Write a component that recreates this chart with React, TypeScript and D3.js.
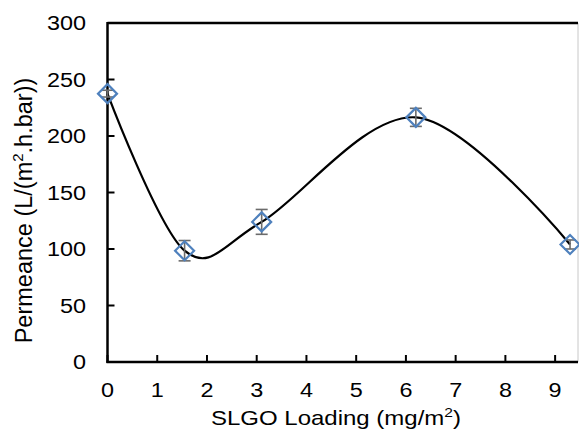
import React, { useEffect, useRef } from 'react'
import * as d3 from 'd3'

const loading = [0, 1.55, 3.1, 6.2, 9.3]
const permeance = [237.5, 98.5, 124, 216.5, 104]
const errors = [3, 9, 11, 8, 4]
const xTicks = [0, 1, 2, 3, 4, 5, 6, 7, 8, 9]
const yTicks = [0, 50, 100, 150, 200, 250, 300]

const App = () => {
  const ref = useRef<SVGSVGElement | null>(null)

  useEffect(() => {
    const svg = d3.select(ref.current)
    svg.selectAll('*').remove()

    const font = 'Liberation Sans, Arial, sans-serif'
    const stretch = 1.2 // text in the picture is a bit wide
    const left = 107.5
    const right = 578
    const top = 23
    const bottom = 362

    const x = d3.scaleLinear().domain([0, 9.46]).range([left, right])
    const y = d3.scaleLinear().domain([0, 300]).range([bottom, top])

    // frame edges
    svg.append('line')
      .attr('x1', right).attr('x2', right).attr('y1', top).attr('y2', bottom)
      .attr('stroke', '#c8c8c8').attr('stroke-width', 1)
    svg.append('line')
      .attr('x1', left).attr('x2', right).attr('y1', top).attr('y2', top)
      .attr('stroke', '#000').attr('stroke-width', 2.5)

    // y axis
    const yAxis = svg.append('g').attr('transform', `translate(${left},0)`)
    yAxis.append('line')
      .attr('x1', 0).attr('x2', 0).attr('y1', top - 1).attr('y2', bottom + 1)
      .attr('stroke', '#000').attr('stroke-width', 2.5)
    yAxis.selectAll('line.tick')
      .data(yTicks)
      .enter()
      .append('line')
      .attr('class', 'tick')
      .attr('x1', 0).attr('x2', 7)
      .attr('y1', d => y(d)).attr('y2', d => y(d))
      .attr('stroke', '#000').attr('stroke-width', 2)
    yAxis.selectAll('text')
      .data(yTicks)
      .enter()
      .append('text')
      .attr('transform', d => `translate(-21.5,${y(d) + 7}) scale(${stretch},1)`)
      .attr('text-anchor', 'end')
      .attr('font-family', font)
      .attr('font-size', 19.5)
      .text(d => d)

    // x axis
    const xAxis = svg.append('g')
    xAxis.append('line')
      .attr('x1', left - 1).attr('x2', right).attr('y1', bottom).attr('y2', bottom)
      .attr('stroke', '#000').attr('stroke-width', 2.5)
    xAxis.selectAll('line.tick')
      .data(xTicks)
      .enter()
      .append('line')
      .attr('class', 'tick')
      .attr('x1', d => x(d)).attr('x2', d => x(d))
      .attr('y1', bottom).attr('y2', bottom - 7)
      .attr('stroke', '#000').attr('stroke-width', 2)
    xAxis.selectAll('text')
      .data(xTicks)
      .enter()
      .append('text')
      .attr('transform', d => `translate(${x(d)},397) scale(${stretch},1)`)
      .attr('text-anchor', 'middle')
      .attr('font-family', font)
      .attr('font-size', 19.5)
      .text(d => d)

    // axis titles
    const xt = svg.append('text')
      .attr('transform', `translate(336,425) scale(${stretch},1)`)
      .attr('text-anchor', 'middle')
      .attr('font-family', font)
      .attr('font-size', 20)
    xt.append('tspan').text('SLGO Loading (mg/m')
    xt.append('tspan').attr('font-size', 13).attr('dy', -8).text('2')
    xt.append('tspan').attr('dy', 8).text(')')

    const yt = svg.append('text')
      .attr('transform', 'translate(32,210.5) rotate(-90)')
      .attr('text-anchor', 'middle')
      .attr('font-family', font)
      .attr('font-size', 23.5)
    yt.append('tspan').text('Permeance (L/(m')
    yt.append('tspan').attr('font-size', 15).attr('dy', -9).text('2')
    yt.append('tspan').attr('dy', 9).text('.h.bar))')

    // smoothed line
    const pts: [number, number][] = loading.map((d, i) => [d, permeance[i]])
    const line = d3.line<[number, number]>()
      .x(d => x(d[0]))
      .y(d => y(d[1]))
      .curve(d3.curveCardinal.tension(0))
    svg.append('path')
      .attr('d', line(pts))
      .attr('fill', 'none')
      .attr('stroke', '#000')
      .attr('stroke-width', 2.2)

    // error bars
    const eb = svg.selectAll('g.err')
      .data(pts)
      .enter()
      .append('g')
      .attr('class', 'err')
      .attr('stroke', '#6b6b6b')
      .attr('stroke-width', 1.6)
    eb.append('line')
      .attr('x1', d => x(d[0])).attr('x2', d => x(d[0]))
      .attr('y1', (d, i) => y(d[1] + errors[i]))
      .attr('y2', (d, i) => y(d[1] - errors[i]))
    eb.append('line')
      .attr('x1', d => x(d[0]) - 6).attr('x2', d => x(d[0]) + 6)
      .attr('y1', (d, i) => y(d[1] + errors[i]))
      .attr('y2', (d, i) => y(d[1] + errors[i]))
    eb.append('line')
      .attr('x1', d => x(d[0]) - 6).attr('x2', d => x(d[0]) + 6)
      .attr('y1', (d, i) => y(d[1] - errors[i]))
      .attr('y2', (d, i) => y(d[1] - errors[i]))

    // diamond markers
    const r = 9.5
    svg.selectAll('path.marker')
      .data(pts)
      .enter()
      .append('path')
      .attr('class', 'marker')
      .attr('d', d => {
        const cx = x(d[0])
        const cy = y(d[1])
        return `M${cx},${cy - r}L${cx + r},${cy}L${cx},${cy + r}L${cx - r},${cy}Z`
      })
      .attr('fill', 'none')
      .attr('stroke', '#4f81bd')
      .attr('stroke-width', 2.2)
  }, [])

  return (
    <svg
      ref={ref}
      width={579}
      height={430}
      style={{ position: 'absolute', left: 0, top: 0, background: '#fff' }}
    />
  )
}

export default App
